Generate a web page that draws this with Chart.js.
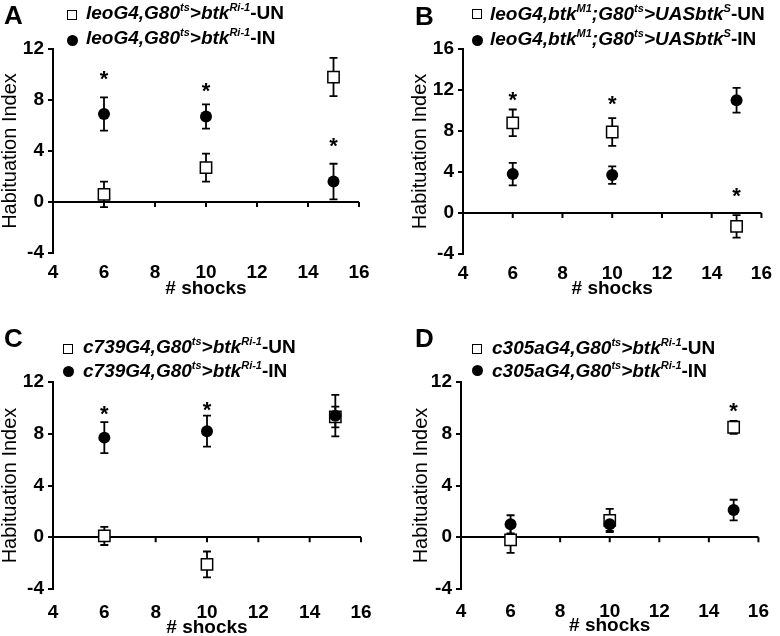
<!DOCTYPE html>
<html>
<head>
<meta charset="utf-8">
<script src="https://cdn.jsdelivr.net/npm/chart.js@4"></script>
<style>
  body { margin: 0; background: #fff; }
  #fig { position: relative; width: 780px; height: 636px; overflow: hidden; font-family: 'Liberation Sans', Arial, sans-serif; color: #000; }
  .panel { position: absolute; width: 390px; height: 318px; }
  .panel canvas { position: absolute; left: 0; top: 0; }
  .letter { position: absolute; font-weight: bold; font-size: 26px; line-height: 26px; }
  .leg { position: absolute; font-weight: bold; font-style: italic; font-size: 19px; line-height: 22px; white-space: nowrap; }
  .leg sup { font-size: 11px; vertical-align: baseline; position: relative; top: -8px; }
  .leg .up { font-style: normal; }
  .sq { position: absolute; width: 8px; height: 8px; border: 1.5px solid #000; background: #fff; }
  .dot { position: absolute; width: 11px; height: 11px; border-radius: 50%; background: #000; }
</style>
</head>
<body>
<div id="fig"></div>
<script>
const FONT = "'Liberation Sans', Arial, sans-serif";

// shared x values
const shocks = [6, 10, 15];

// A
const aUn = [0.6, 2.7, 9.8];
const aUnErr = [1.0, 1.1, 1.5];
const aIn = [6.9, 6.7, 1.6];
const aInErr = [1.3, 0.95, 1.4];
const aStars = [10.1, 9.2, 4.9];

// B
const bUn = [8.8, 7.9, -1.3];
const bUnErr = [1.3, 1.35, 1.1];
const bIn = [3.8, 3.7, 11.0];
const bInErr = [1.1, 0.85, 1.2];
const bStars = [11.6, 11.2, 2.2];

// C
const cUn = [0.1, -2.1, 9.3];
const cUnErr = [0.7, 1.0, 0.8];
const cIn = [7.7, 8.2, 9.4];
const cInErr = [1.2, 1.2, 1.6];
const cStars = [10.0, 10.3, null];

// D
const dUn = [-0.2, 1.3, 8.5];
const dUnErr = [1.0, 0.9, 0.5];
const dIn = [1.0, 1.0, 2.1];
const dInErr = [0.7, 0.5, 0.8];
const dStars = [null, null, 10.2];

const yRangeSmall = [-4, 12];
const yRangeBig = [-4, 16];

const legA = ['leoG4,G80<sup>ts</sup>&gt;btk<sup>Ri-1</sup><span class="up">-UN</span>', 'leoG4,G80<sup>ts</sup>&gt;btk<sup>Ri-1</sup><span class="up">-IN</span>'];
const legB = ['leoG4,btk<sup>M1</sup>;G80<sup>ts</sup>&gt;UASbtk<sup>S</sup><span class="up">-UN</span>', 'leoG4,btk<sup>M1</sup>;G80<sup>ts</sup>&gt;UASbtk<sup>S</sup><span class="up">-IN</span>'];
const legC = ['c739G4,G80<sup>ts</sup>&gt;btk<sup>Ri-1</sup><span class="up">-UN</span>', 'c739G4,G80<sup>ts</sup>&gt;btk<sup>Ri-1</sup><span class="up">-IN</span>'];
const legD = ['c305aG4,G80<sup>ts</sup>&gt;btk<sup>Ri-1</sup><span class="up">-UN</span>', 'c305aG4,G80<sup>ts</sup>&gt;btk<sup>Ri-1</sup><span class="up">-IN</span>'];

const panels = [
  { letter: 'A', ox: 0, oy: 0, un: aUn, unErr: aUnErr, inn: aIn, inErr: aInErr, stars: aStars, yr: yRangeSmall, leg: legA,
    area: { l: 53, r: 359, t: 49, b: 253 }, xPad: 8, xTitleOff: 29, yTitleOff: 10, lp: { x: 4, y: 2 },
    sq: [72, 15], dot: [72.5, 40.5], tx: 86, rows: [2.4, 27.4] },
  { letter: 'B', ox: 390, oy: 0, un: bUn, unErr: bUnErr, inn: bIn, inErr: bInErr, stars: bStars, yr: yRangeBig, leg: legB,
    area: { l: 73, r: 379, t: 49, b: 254 }, xPad: 8, xTitleOff: 29, yTitleOff: 30, lp: { x: 25, y: 3 },
    sq: [87, 14], dot: [87, 40], tx: 100, rows: [3, 28] },
  { letter: 'C', ox: 0, oy: 318, un: cUn, unErr: cUnErr, inn: cIn, inErr: cInErr, stars: cStars, yr: yRangeSmall, leg: legC,
    area: { l: 53, r: 361, t: 64, b: 271 }, xPad: 12, xTitleOff: 8, yTitleOff: 10, lp: { x: 4, y: 7 },
    sq: [68, 31], dot: [68, 53], tx: 83, rows: [18.4, 42.4] },
  { letter: 'D', ox: 390, oy: 318, un: dUn, unErr: dUnErr, inn: dIn, inErr: dInErr, stars: dStars, yr: yRangeSmall, leg: legD,
    area: { l: 71, r: 378, t: 64, b: 271 }, xPad: 11, xTitleOff: 10, yTitleOff: 31, lp: { x: 25, y: 7 },
    sq: [87.5, 31.5], dot: [87.5, 52], tx: 102, rows: [19, 42] }
];

// error bars, zero-line ticks and significance stars
const marks = {
  id: 'marks',
  beforeDatasetsDraw(chart, args, opts) {
    const { ctx, scales: { x, y } } = chart;
    ctx.save();
    ctx.strokeStyle = '#000';
    ctx.lineWidth = 2;
    const y0 = y.getPixelForValue(0);
    x.ticks.forEach(t => {
      if (t.value === x.min) return;
      const px = x.getPixelForValue(t.value);
      ctx.beginPath();
      ctx.moveTo(px, y0);
      ctx.lineTo(px, y0 + 5);
      ctx.stroke();
    });
    ctx.lineWidth = 1.8;
    opts.errors.forEach((errs, di) => {
      chart.data.datasets[di].data.forEach((p, i) => {
        const px = x.getPixelForValue(p.x);
        const top = y.getPixelForValue(p.y + errs[i]);
        const bot = y.getPixelForValue(p.y - errs[i]);
        ctx.beginPath();
        ctx.moveTo(px, top); ctx.lineTo(px, bot);
        ctx.moveTo(px - 4, top); ctx.lineTo(px + 4, top);
        ctx.moveTo(px - 4, bot); ctx.lineTo(px + 4, bot);
        ctx.stroke();
      });
    });
    ctx.restore();
  },
  afterDatasetsDraw(chart, args, opts) {
    const { ctx, scales: { x, y } } = chart;
    ctx.save();
    ctx.fillStyle = '#000';
    ctx.font = 'bold 22px ' + FONT;
    ctx.textAlign = 'center';
    ctx.textBaseline = 'alphabetic';
    opts.stars.forEach((v, i) => {
      if (v == null) return;
      ctx.fillText('*', x.getPixelForValue(shocks[i]), y.getPixelForValue(v) + 13);
    });
    ctx.restore();
  }
};

const fig = document.getElementById('fig');

panels.forEach(p => {
  const div = document.createElement('div');
  div.className = 'panel';
  div.style.left = p.ox + 'px';
  div.style.top = p.oy + 'px';
  const canvas = document.createElement('canvas');
  canvas.width = 390;
  canvas.height = 318;
  div.appendChild(canvas);

  const letter = document.createElement('div');
  letter.className = 'letter';
  letter.textContent = p.letter;
  letter.style.left = p.lp.x + 'px';
  letter.style.top = p.lp.y + 'px';
  div.appendChild(letter);

  const sq = document.createElement('div');
  sq.className = 'sq';
  sq.style.left = (p.sq[0] - 5.5) + 'px';
  sq.style.top = (p.sq[1] - 5.5) + 'px';
  div.appendChild(sq);
  const dot = document.createElement('div');
  dot.className = 'dot';
  dot.style.left = (p.dot[0] - 5.5) + 'px';
  dot.style.top = (p.dot[1] - 5.5) + 'px';
  div.appendChild(dot);

  p.leg.forEach((html, i) => {
    const row = document.createElement('div');
    row.className = 'leg';
    row.innerHTML = html;
    row.style.left = p.tx + 'px';
    row.style.top = p.rows[i] + 'px';
    div.appendChild(row);
  });
  fig.appendChild(div);

  const toPts = vals => vals.map((v, i) => ({ x: shocks[i], y: v }));

  new Chart(canvas, {
    type: 'scatter',
    data: {
      datasets: [
        { label: 'UN', data: toPts(p.un), pointStyle: 'rect', pointRadius: 8, backgroundColor: '#fff',
          borderColor: '#000', borderWidth: 1.5, order: 2 },
        { label: 'IN', data: toPts(p.inn), pointStyle: 'circle', pointRadius: 6, backgroundColor: '#000',
          borderColor: '#000', borderWidth: 0, order: 1 }
      ]
    },
    options: {
      responsive: false,
      animation: false,
      devicePixelRatio: 1,
      layout: { padding: { left: 0, right: 390 - p.area.r, top: p.area.t, bottom: 0 } },
      plugins: {
        legend: { display: false },
        tooltip: { enabled: false },
        marks: { errors: [p.unErr, p.inErr], stars: p.stars }
      },
      scales: {
        x: {
          type: 'linear', min: 4, max: 16,
          ticks: { stepSize: 2, color: '#000', padding: p.xPad, font: { family: FONT, size: 19, weight: 'bold' } },
          grid: { display: false, drawTicks: false },
          border: { display: false },
          title: { display: true, text: '# shocks', color: '#000', padding: { top: 0, bottom: p.xTitleOff - 9.5 },
            font: { family: FONT, size: 19, weight: 'bold', lineHeight: 1 } },
          afterFit: s => { s.height = 318 - p.area.b; }
        },
        y: {
          min: p.yr[0], max: p.yr[1],
          ticks: { stepSize: 4, color: '#000', padding: 4, font: { family: FONT, size: 19, weight: 'bold' } },
          grid: { color: c => (c.tick && c.tick.value === 0 ? '#000' : 'rgba(0,0,0,0)'), lineWidth: 2,
            tickColor: '#000', tickLength: 5, drawTicks: true },
          border: { display: true, color: '#000', width: 2 },
          title: { display: true, text: 'Habituation Index', color: '#000', padding: { top: p.yTitleOff - 10, bottom: 0 },
            font: { family: FONT, size: 20, lineHeight: 1 } },
          afterFit: s => { s.width = p.area.l; }
        }
      }
    },
    plugins: [marks]
  });
});
</script>
</body>
</html>
